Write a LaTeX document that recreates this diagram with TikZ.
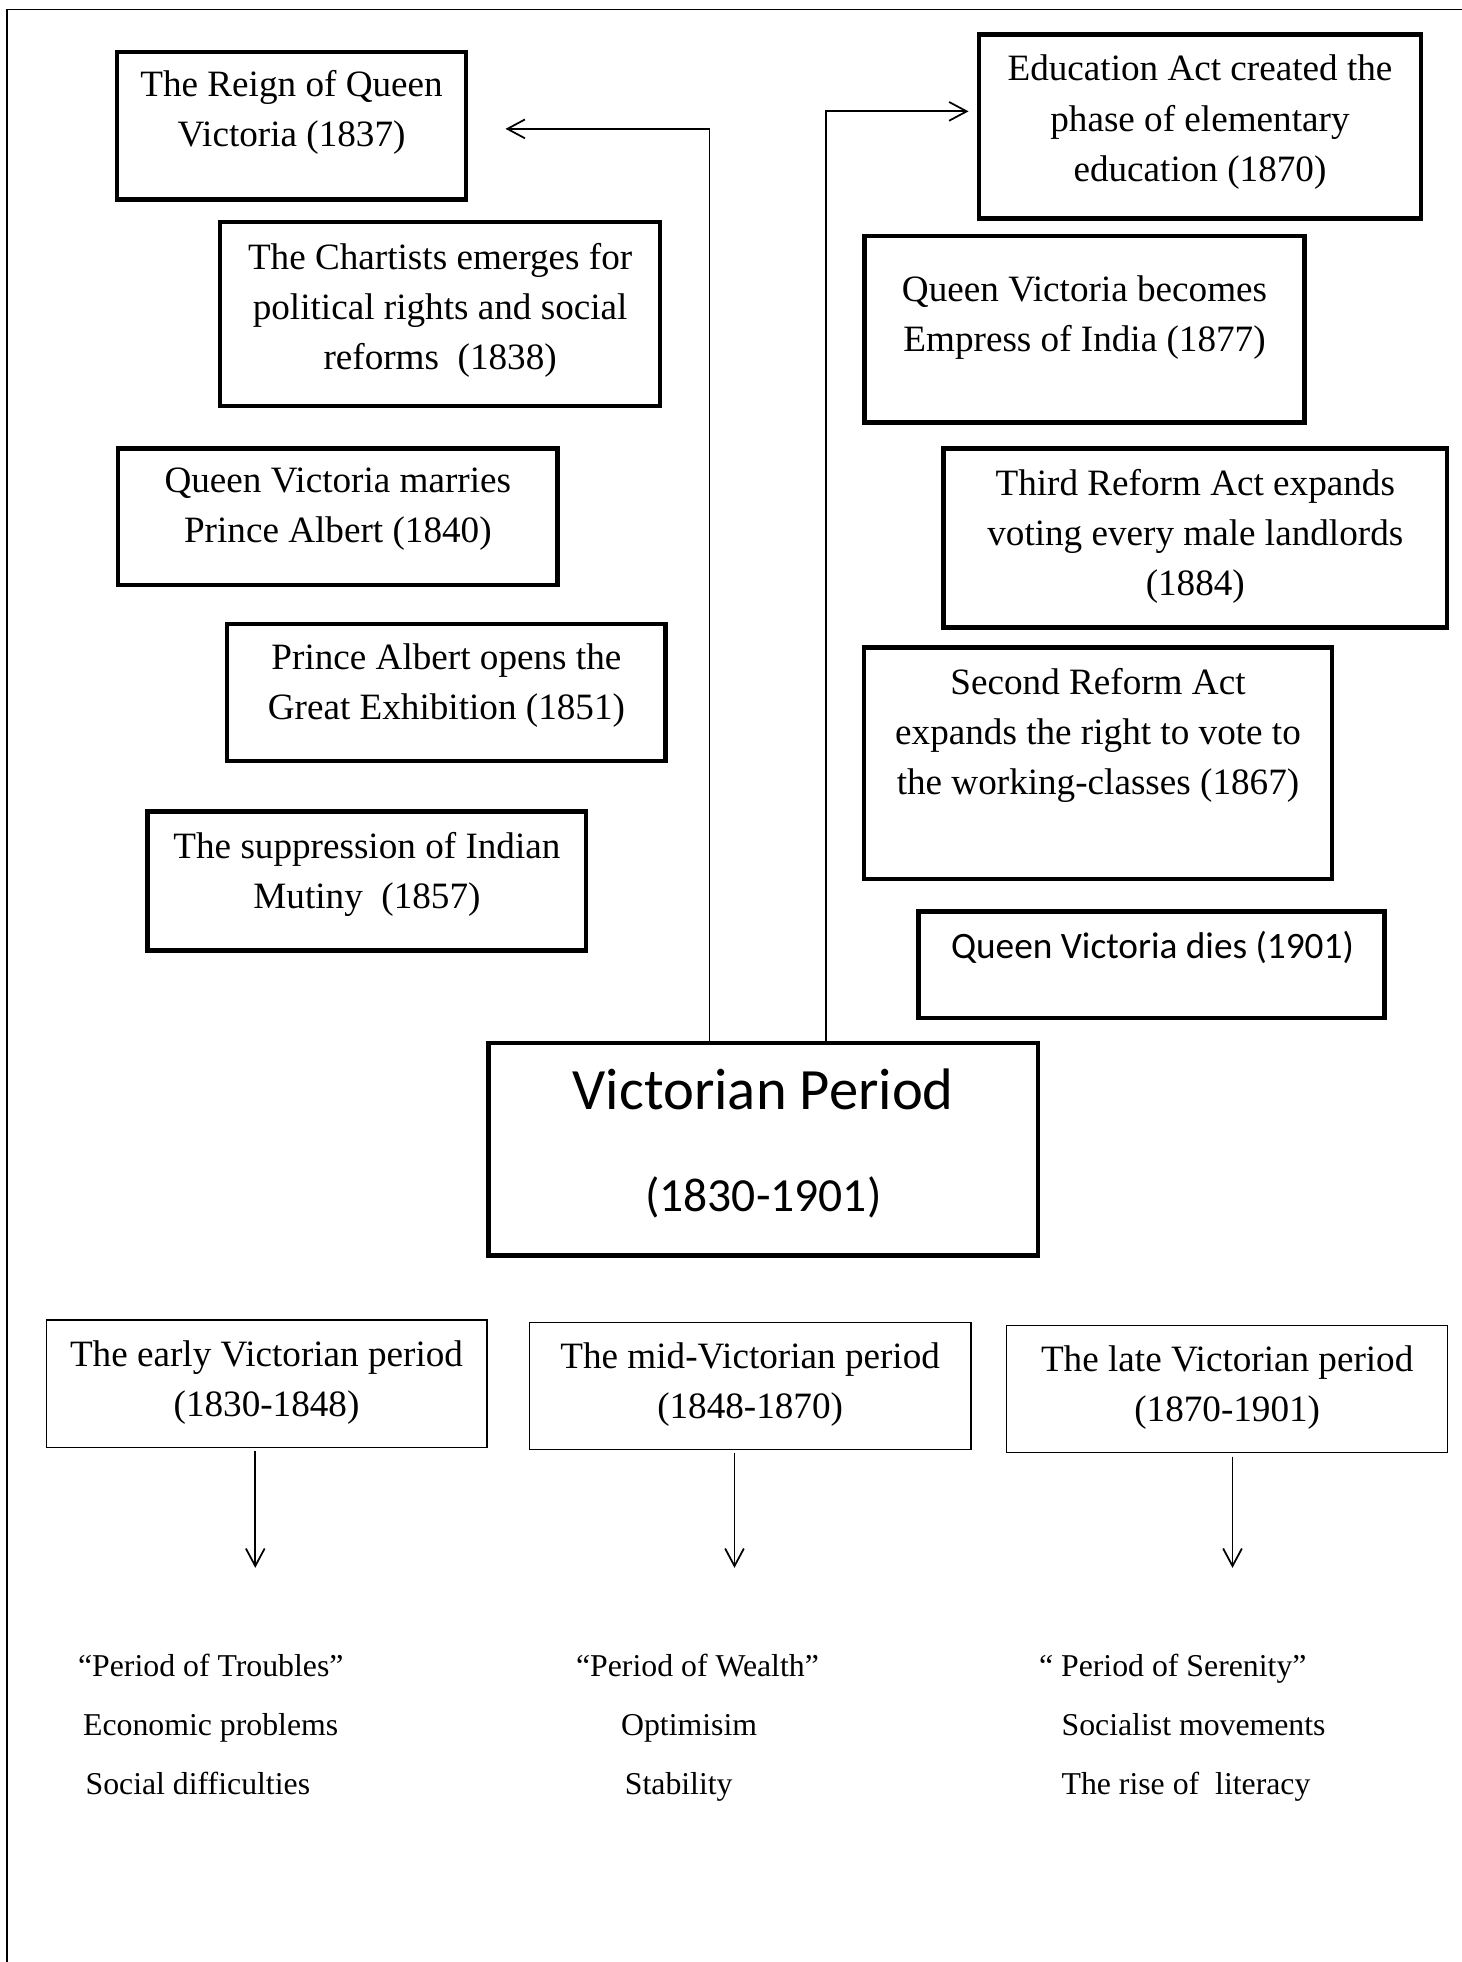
\documentclass[tikz,border=0pt]{standalone}
\usepackage{fontspec}
\setmainfont{Liberation Serif}
\newfontfamily\calib{Carlito}
\usetikzlibrary{arrows.meta}
\begin{document}
\begin{tikzpicture}[x=0.5pt,y=-0.5pt,
  tbox/.style={draw, line width=1.8pt, rectangle, outer sep=0pt, inner sep=0pt},
  nbox/.style={draw, line width=0.6pt, rectangle, outer sep=0pt, inner sep=0pt},
  btxt/.style={font=\fontsize{14.85}{20}\selectfont, align=center, anchor=north, inner sep=0pt},
  ltxt/.style={font=\fontsize{12.7}{15}\selectfont, anchor=base west, inner sep=0pt},
  stxt/.style={anchor=base, inner sep=0pt},
  conn/.style={line width=0.7pt, -{Straight Barb[length=7pt,width=7.5pt,line width=0.7pt]}},
  frame/.style={line width=0.6pt}]
\useasboundingbox (0,0) rectangle (1168,1568);
% outer frame (top and left edges only)
\draw[frame] (5.6,1568) -- (5.6,7.5) -- (1168,7.5);
% left column boxes
\node[tbox, minimum width=139.5pt, minimum height=59pt] (b1) at (233,100.5) {};
\node[btxt] at (233,55.7) {The Reign of Queen\\Victoria (1837)};
\node[tbox, minimum width=175.75pt, minimum height=73.5pt] (b2) at (351.75,251) {};
\node[btxt] at (351.75,193.7) {The Chartists emerges for\\political rights and social\\reforms~ (1838)};
\node[tbox, minimum width=175.5pt, minimum height=54.5pt] (b3) at (270,413) {};
\node[btxt] at (270,373.7) {Queen Victoria marries\\Prince Albert (1840)};
\node[tbox, minimum width=175.25pt, minimum height=54.75pt] (b4) at (356.75,553.25) {};
\node[btxt] at (356.75,513.7) {Prince Albert opens the\\Great Exhibition (1851)};
\node[tbox, minimum width=175.25pt, minimum height=55.5pt] (b5) at (293.25,704) {};
\node[btxt] at (293.25,664.7) {The suppression of Indian\\Mutiny~ (1857)};
% right column boxes
\node[tbox, minimum width=176.5pt, minimum height=73.5pt] (r1) at (959,101) {};
\node[btxt] at (959,43.7) {Education Act created the\\phase of elementary\\education (1870)};
\node[tbox, minimum width=175.75pt, minimum height=74.5pt] (r2) at (866.75,263) {};
\node[btxt] at (866.75,219.7) {Queen Victoria becomes\\Empress of India (1877)};
\node[tbox, minimum width=201.25pt, minimum height=71.5pt] (r3) at (955.25,430) {};
\node[btxt] at (955.25,374.7) {Third Reform Act expands\\voting every male landlords\\(1884)};
\node[tbox, minimum width=187pt, minimum height=92.5pt] (r4) at (877.5,610) {};
\node[btxt] at (877.5,533.7) {Second Reform Act\\expands the right to vote to\\the working-classes (1867)};
\node[tbox, minimum width=186.25pt, minimum height=42.5pt] (r5) at (920.25,771) {};
\node[stxt, font=\calib\fontsize{14.9}{18}\selectfont] at (921,766) {Queen Victoria dies (1901)};
% central box
\node[tbox, minimum width=219.5pt, minimum height=85pt] (vp) at (610,918.5) {};
\node[stxt, font=\calib\fontsize{23.4}{28}\selectfont] at (610,887) {Victorian Period};
\node[stxt, font=\calib\fontsize{19}{23}\selectfont] at (610,968) {(1830-1901)};
% connectors from central box
\coordinate (lx) at (567,103);
\coordinate (rx) at (660,89);
\draw[conn, shorten >=15.75pt] (vp.north -| lx) |- (b1.east |- lx);
\draw[conn, shorten >=4.25pt] (vp.north -| rx) |- (r1.west |- rx);
% period boxes
\node[nbox, minimum width=176pt, minimum height=51pt] (e) at (213,1106) {};
\node[btxt] at (213,1070.7) {The early Victorian period\\(1830-1848)};
\node[nbox, minimum width=176.5pt, minimum height=50.75pt] (m) at (599.5,1107.75) {};
\node[btxt] at (599.5,1072.7) {The mid-Victorian period\\(1848-1870)};
\node[nbox, minimum width=176.25pt, minimum height=50.75pt] (l) at (980.75,1110.25) {};
\node[btxt] at (980.75,1074.7) {The late Victorian period\\(1870-1901)};
% arrows down
\coordinate (et) at (204,1253);
\coordinate (mt) at (587,1253);
\coordinate (lt) at (985,1253);
\draw[conn, shorten <=1.5pt] (e.south -| et) -- (et);
\draw[conn, shorten <=1.5pt] (m.south -| mt) -- (mt);
\draw[conn, shorten <=1.5pt] (l.south -| lt) -- (lt);
% characteristics
\node[ltxt] at (62,1340) {“Period of Troubles”};
\node[ltxt] at (66,1387) {Economic problems};
\node[ltxt] at (68,1434) {Social difficulties};
\node[ltxt] at (460,1340) {“Period of Wealth”};
\node[ltxt] at (496,1387) {Optimisim};
\node[ltxt] at (499,1434) {Stability};
\node[ltxt] at (830,1340) {“ Period of Serenity”};
\node[ltxt] at (848,1387) {Socialist movements};
\node[ltxt] at (848,1434) {The rise of~ literacy};
\end{tikzpicture}
\end{document}
